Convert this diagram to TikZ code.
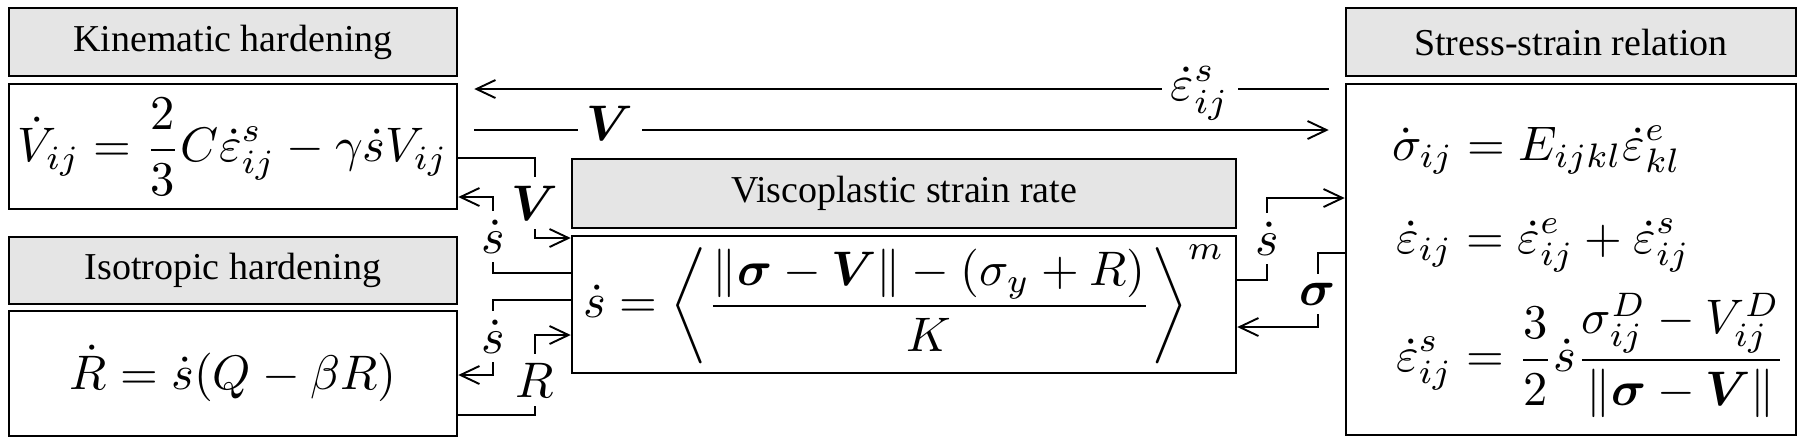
\documentclass[tikz,border=0pt]{standalone}
\usepackage{amsmath}
\usepackage{graphicx}
\usepackage{bm}
\usepackage[no-math]{fontspec}
\newfontfamily\tnr{Liberation Serif}
\usetikzlibrary{arrows.meta}
\newcommand\eqn[1]{\scalebox{0.97}{$\displaystyle #1$}}
\tikzset{
  titlebox/.style={draw, line width=0.5pt, fill=gray!20, inner sep=0pt,
    font=\tnr\fontsize{7.6}{9}\selectfont},
  eqbox/.style={draw, line width=0.5pt, fill=white, inner sep=0pt},
  eqtext/.style={inner sep=0pt, font=\normalsize},
  lbl/.style={inner sep=1.6pt, font=\normalsize},
  conn/.style={line width=0.38pt},
  arr/.style={conn, -{Straight Barb[length=3.8pt,width=3.6pt,line width=0.38pt]}}
}
\begin{document}
\begin{tikzpicture}[x=0.2pt,y=-0.2pt]
\fill[white] (0,0) rectangle (1805,445);
\useasboundingbox (0,0) rectangle (1805,445);

% boxes
\node[titlebox, minimum width=89.6pt, minimum height=13.6pt] (kinT) at (233,42) {Kinematic hardening};
\node[eqbox, minimum width=89.6pt, minimum height=25pt] (kinE) at (233,146.5) {};
\node[titlebox, minimum width=89.6pt, minimum height=13.4pt] (isoT) at (233,270.5) {Isotropic hardening};
\node[eqbox, minimum width=89.6pt, minimum height=25pt] (isoE) at (233,373.5) {};
\node[titlebox, minimum width=132.8pt, minimum height=13.8pt] (viscT) at (904,193.5) {Viscoplastic strain rate};
\node[eqbox, minimum width=132.8pt, minimum height=27.4pt] (viscE) at (904,304.5) {};
\node[titlebox, minimum width=90pt, minimum height=13.6pt] (strT) at (1571,42) {Stress-strain relation};
\node[eqbox, minimum width=90pt, minimum height=70.2pt] (strE) at (1571,259.5) {};

% equations
\node[eqtext] (kinEq) at (kinE.center) {\eqn{\dot V_{ij}=\frac{2}{3}C\dot\varepsilon^{s}_{ij}-\gamma\dot sV_{ij}}};
\node[eqtext] (isoEq) at (isoE.center) {\eqn{\dot R=\dot s(Q-\beta R)}};
\node[eqtext] (viscEq) at (viscE.center)
  {\eqn{\dot s=\left\langle\frac{\|\bm\sigma-\bm V\|-(\sigma_y+R)}{K}\right\rangle^{m}}};
\node[eqtext, anchor=west] (s1) at (1391,150) {\eqn{\dot\sigma_{ij}=E_{ijkl}\dot\varepsilon^{e}_{kl}}};
\node[eqtext, anchor=west] (s2) at (1395,245) {\eqn{\dot\varepsilon_{ij}=\dot\varepsilon^{e}_{ij}+\dot\varepsilon^{s}_{ij}}};
\node[eqtext, anchor=west] (s3) at (1395,355)
  {\eqn{\dot\varepsilon^{s}_{ij}=\frac{3}{2}\dot s\frac{\sigma^{D}_{ij}-V^{D}_{ij}}{\|\bm\sigma-\bm V\|}}};

% labels
\node[lbl, anchor=base] (eps) at (1200,100) {$\dot\varepsilon^{s}_{ij}$};
\node[lbl, anchor=base] (vtop) at (610,140) {$\bm V$};
\node[lbl, anchor=base] (vmid) at (535,220) {$\bm V$};
\node[lbl, anchor=base] (sk) at (493,253) {$\dot s$};
\node[lbl, anchor=base] (si) at (493,353) {$\dot s$};
\node[lbl, anchor=base] (rl) at (535,397) {$R$};
\node[lbl, anchor=base] (sr) at (1267,255) {$\dot s$};
\node[lbl, anchor=base] (sig) at (1318,305) {$\bm\sigma$};

% long connectors
\draw[conn, shorten <=3.2pt] (strE.west |- 0,89) -- (eps.east |- 0,89);
\draw[arr, shorten >=3.2pt] (eps.west |- 0,89) -- (kinE.east |- 0,89);
\draw[conn, shorten <=3.2pt] (kinE.east |- 0,130) -- (vtop.west |- 0,130);
\draw[arr, shorten >=3.2pt] (vtop.east |- 0,130) -- (strE.west |- 0,130);

% left connectors
\draw[conn] (kinE.east |- 0,158) -| (vmid.north);
\draw[arr] (vmid.south) |- (viscE.west |- 0,238);
\draw[conn] (viscE.west |- 0,273) -| (sk.south);
\draw[arr] (sk.north) |- (kinE.east |- 0,197);
\draw[conn] (viscE.west |- 0,300) -| (si.north);
\draw[arr] (si.south) |- (isoE.east |- 0,375);
\draw[conn] (isoE.east |- 0,415) -| (rl.south);
\draw[arr] (rl.north) |- (viscE.west |- 0,335);

% right connectors
\draw[conn] (viscE.east |- 0,280) -| (sr.south);
\draw[arr] (sr.north) |- (strE.west |- 0,198);
\draw[conn] (strE.west |- 0,253) -| (sig.north);
\draw[arr] (sig.south) |- (viscE.east |- 0,327);
\end{tikzpicture}
\end{document}
